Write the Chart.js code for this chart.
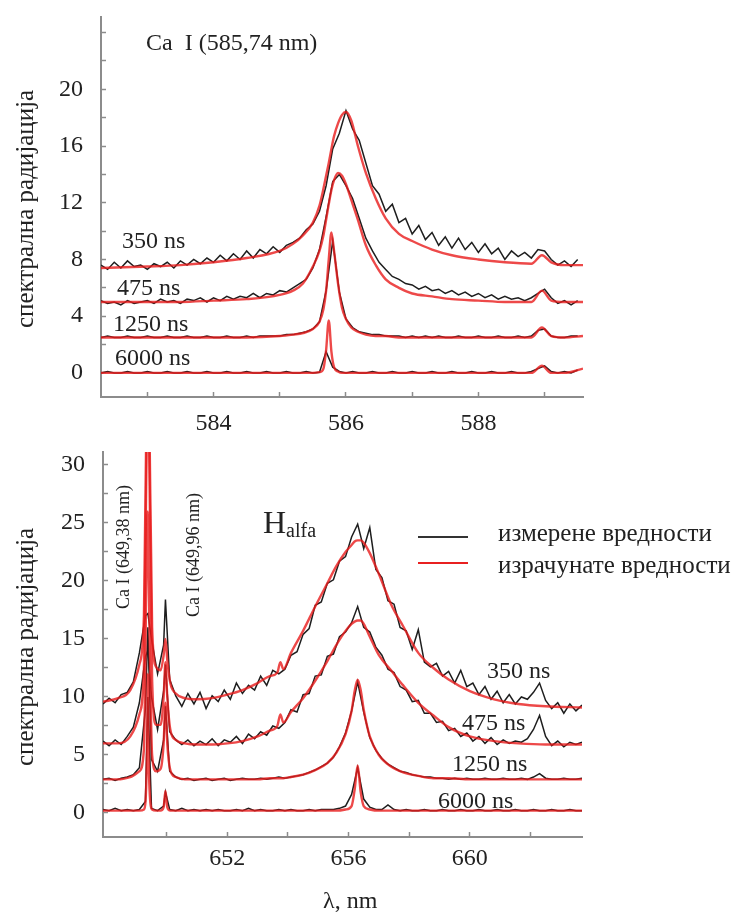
<!DOCTYPE html>
<html>
<head>
<meta charset="utf-8">
<title>Спектрална радијација Ca I и H alfa</title>
<script src="https://cdn.jsdelivr.net/npm/chart.js"></script>
<style>
    body { margin: 0; background: #fff; }
    #wrap { position: relative; width: 735px; height: 915px; font-family: "Liberation Serif", "Times New Roman", serif; color: #222; }
    canvas { position: absolute; left: 0; }
    .lbl { position: absolute; font-size: 24px; line-height: 24px; white-space: nowrap; }
    .rot { position: absolute; white-space: nowrap; line-height: 1; transform: translate(-50%, -50%) rotate(-90deg); }
    .swatch { position: absolute; height: 2px; width: 50px; }
</style>
</head>
<body>
<div id="wrap">
    <canvas id="caChart" width="735" height="440" style="top:0"></canvas>
    <canvas id="haChart" width="735" height="475" style="top:440px"></canvas>

    <!-- gornji panel -->
    <div class="lbl" style="left:146px; top:30px">Ca&nbsp; I (585,74 nm)</div>
    <div class="lbl" style="left:122px; top:228px">350 ns</div>
    <div class="lbl" style="left:117px; top:275px">475 ns</div>
    <div class="lbl" style="left:113px; top:311px">1250 ns</div>
    <div class="lbl" style="left:115px; top:345px">6000 ns</div>
    <div class="rot" style="left:24px; top:209px; font-size:25px">спектрална радијација</div>

    <!-- donji panel -->
    <div class="rot" style="left:123px; top:547px; font-size:18px">Ca I (649,38 nm)</div>
    <div class="rot" style="left:193px; top:555px; font-size:18px">Ca I (649,96 nm)</div>
    <div class="lbl" style="left:263px; top:506px; font-size:32px; line-height:32px">H<span style="font-size:20px; position:relative; top:4px">alfa</span></div>
    <div class="swatch" style="left:418px; top:536px; background:#333"></div>
    <div class="swatch" style="left:418px; top:562px; background:#e82020"></div>
    <div class="lbl" style="left:498px; top:521px; font-size:25px">измерене вредности</div>
    <div class="lbl" style="left:498px; top:553px; font-size:25px">израчунате вредности</div>
    <div class="lbl" style="left:487px; top:658px">350 ns</div>
    <div class="lbl" style="left:462px; top:710px">475 ns</div>
    <div class="lbl" style="left:452px; top:751px">1250 ns</div>
    <div class="lbl" style="left:438px; top:788px">6000 ns</div>
    <div class="rot" style="left:24px; top:647px; font-size:25px">спектрална радијација</div>
    <div class="lbl" style="left:323px; top:888px">λ, nm</div>
</div>

<script>
    // ---- Ca I 585,74 nm : mjerene vrijednosti ----
    var caX = [
        582.3,582.4,582.5,582.6,582.7,582.8,582.9,583.0,583.1,583.2,
        583.3,583.4,583.5,583.6,583.7,583.8,583.9,584.0,584.1,584.2,
        584.3,584.4,584.5,584.6,584.7,584.8,584.9,585.0,585.1,585.2,
        585.3,585.4,585.5,585.6,585.7,585.8,585.9,586.0,586.1,586.2,
        586.3,586.4,586.5,586.6,586.7,586.8,586.9,587.0,587.1,587.2,
        587.3,587.4,587.5,587.6,587.7,587.8,587.9,588.0,588.1,588.2,
        588.3,588.4,588.5,588.6,588.7,588.8,588.9,589.0,589.1,589.2,
        589.3,589.4,589.5
    ];
    var ca350 = [
        7.6,7.3,7.8,7.4,7.9,7.5,7.6,7.3,7.7,7.5,
        7.8,7.4,7.9,7.6,8.0,7.7,8.1,7.8,8.3,7.9,
        8.4,8.0,8.6,8.1,8.7,8.4,8.9,8.5,9.0,9.2,
        9.5,10.1,10.5,11.4,13.2,15.8,16.9,18.5,17.2,16.4,
        14.8,13.2,12.6,11.4,11.9,10.6,10.9,9.8,10.4,9.4,
        9.9,9.0,9.6,8.8,9.5,8.7,9.2,8.5,9.1,8.4,
        8.8,8.0,8.6,8.2,8.5,8.1,8.7,8.6,8.0,7.6,
        7.9,7.5,8.0
    ];
    var ca475 = [
        5.1,4.9,5.0,4.8,5.1,4.9,5.0,5.1,4.9,5.2,
        5.0,5.1,4.9,5.2,5.1,5.3,5.0,5.3,5.1,5.4,
        5.2,5.4,5.3,5.6,5.3,5.6,5.5,5.8,5.7,6.0,
        6.3,6.6,7.4,8.7,11.0,13.5,14.0,13.2,12.3,10.9,
        9.5,8.6,7.8,7.3,6.8,6.6,6.3,6.2,5.9,6.1,
        5.8,5.9,5.6,5.8,5.5,5.7,5.4,5.6,5.3,5.5,
        5.2,5.4,5.2,5.3,5.1,5.3,5.6,5.9,5.3,4.9,
        5.1,4.8,5.1
    ];
    var ca1250 = [
        2.5,2.6,2.5,2.5,2.6,2.5,2.5,2.6,2.5,2.5,
        2.6,2.5,2.5,2.6,2.5,2.5,2.6,2.5,2.5,2.6,
        2.5,2.5,2.6,2.5,2.6,2.6,2.6,2.6,2.7,2.7,
        2.8,2.9,3.1,3.6,5.8,9.3,5.7,3.8,3.2,2.9,
        2.8,2.7,2.7,2.6,2.6,2.6,2.5,2.6,2.5,2.6,
        2.5,2.6,2.5,2.5,2.6,2.5,2.5,2.6,2.5,2.5,
        2.6,2.5,2.5,2.6,2.5,2.6,3.0,3.1,2.6,2.5,
        2.5,2.6,2.6
    ];
    var ca6000 = [
        0.0,0.1,0.0,0.0,0.1,0.0,0.0,0.1,0.0,0.0,
        0.1,0.0,0.0,0.1,0.0,0.0,0.1,0.0,0.0,0.1,
        0.0,0.0,0.1,0.0,0.0,0.1,0.0,0.0,0.1,0.0,
        0.0,0.1,0.0,0.05,1.5,0.4,0.1,0.0,0.1,0.0,
        0.0,0.1,0.0,0.0,0.1,0.0,0.0,0.1,0.0,0.0,
        0.1,0.0,0.0,0.1,0.0,0.0,0.1,0.0,0.0,0.1,
        0.0,0.0,0.1,0.0,0.0,0.1,0.3,0.5,0.1,0.0,
        0.1,0.0,0.2
    ];

    // ---- Ca I 585,74 nm : izracunate vrijednosti ----
    var caFitX = [
        582.3,583.0,583.5,584.0,584.5,585.0,585.2,585.35,585.5,585.6,
        585.66,585.7,585.74,585.78,585.82,585.88,585.94,586.0,586.08,586.18,
        586.3,586.45,586.6,586.8,587.0,587.3,587.6,588.0,588.4,588.8,
        588.96,589.1,589.3,589.58
    ];
    var caFit350 = [
        7.4,7.5,7.6,7.8,8.1,8.6,9.1,9.7,10.6,11.8,
        13.0,13.9,14.8,15.8,16.7,17.6,18.2,18.4,17.8,16.0,
        14.1,12.3,10.9,9.8,9.3,8.7,8.3,8.0,7.8,7.7,
        8.3,7.8,7.6,7.6
    ];
    var caFit475 = [
        5.0,5.0,5.0,5.1,5.2,5.5,5.8,6.3,7.5,8.6,
        9.7,10.8,11.9,12.9,13.6,14.1,13.9,13.3,12.2,10.8,
        9.0,7.6,6.6,6.0,5.6,5.4,5.2,5.1,5.0,5.0,
        5.8,5.1,5.0,5.0
    ];
    var caFit1250 = [
        2.5,2.5,2.5,2.5,2.5,2.6,2.7,2.8,3.1,3.6,
        4.5,5.8,8.0,9.9,8.6,6.3,4.6,3.8,3.2,2.9,
        2.7,2.6,2.6,2.5,2.5,2.5,2.5,2.5,2.5,2.5,
        3.2,2.6,2.5,2.6
    ];
    var caFit6000 = [
        0.0,0.0,0.0,0.0,0.0,0.0,0.0,0.0,0.0,0.05,
        0.3,1.6,3.7,1.5,0.4,0.1,0.0,0.0,0.0,0.0,
        0.0,0.0,0.0,0.0,0.0,0.0,0.0,0.0,0.0,0.0,
        0.5,0.0,0.0,0.3
    ];

    // ---- H alfa : mjerene vrijednosti ----
    var haX = [
        647.9,648.1,648.3,648.5,648.7,648.9,649.1,649.3,649.38,649.5,
        649.7,649.9,649.96,650.1,650.3,650.5,650.7,650.9,651.1,651.3,
        651.5,651.7,651.9,652.1,652.3,652.5,652.7,652.9,653.1,653.3,
        653.5,653.7,653.9,654.1,654.3,654.5,654.7,654.9,655.1,655.3,
        655.5,655.7,655.9,656.1,656.3,656.5,656.7,656.9,657.1,657.3,
        657.5,657.7,657.9,658.1,658.3,658.5,658.7,658.9,659.1,659.3,
        659.5,659.7,659.9,660.1,660.3,660.5,660.7,660.9,661.1,661.3,
        661.5,661.7,661.9,662.1,662.3,662.5,662.7,662.9,663.1,663.3,
        663.5,663.7
    ];
    var ha350 = [
        9.4,9.9,9.5,10.2,10.4,11.3,13.8,17.0,17.2,15.0,
        12.0,14.5,18.4,11.5,10.1,9.2,10.3,9.4,10.4,9.0,
        10.1,9.6,10.6,9.8,11.2,10.3,11.0,10.6,11.8,11.0,
        12.3,12.0,12.4,13.6,13.9,15.4,15.9,17.9,18.2,19.8,
        20.1,21.7,22.1,23.8,24.9,22.8,24.6,21.0,20.3,18.3,
        18.0,16.0,15.7,14.1,15.8,13.0,12.6,12.9,11.8,12.2,
        11.2,12.3,10.9,11.2,10.2,10.9,9.8,10.5,9.5,10.2,
        9.4,10.0,9.8,10.4,11.2,9.7,9.0,9.5,8.6,9.4,
        8.8,9.3
    ];
    var ha475 = [
        6.2,5.8,6.3,5.9,6.6,7.4,9.5,13.5,14.0,10.0,
        7.2,10.5,12.8,7.0,6.3,5.9,6.3,5.8,6.2,5.9,
        6.4,5.8,6.3,6.1,6.6,6.0,6.8,6.4,7.0,6.7,
        7.5,7.3,7.8,8.9,8.7,10.2,10.3,11.8,11.9,13.5,
        13.7,15.2,15.6,16.4,17.8,16.0,15.6,14.3,13.6,12.4,
        12.1,10.9,10.6,9.6,9.7,8.6,8.6,7.8,7.9,7.1,
        7.3,6.6,6.9,6.2,6.6,6.0,6.5,5.9,6.3,6.0,
        6.2,6.1,6.4,7.2,8.4,6.6,5.8,6.2,5.7,6.1,
        5.9,6.1
    ];
    var ha1250 = [
        2.9,3.0,2.8,3.0,3.1,3.3,3.9,9.0,16.0,4.6,
        3.6,6.3,9.2,3.6,3.1,2.9,3.0,2.8,2.9,3.0,
        2.8,2.9,3.0,2.8,2.9,3.0,2.9,2.9,3.0,2.9,
        3.0,3.1,3.0,3.1,3.2,3.3,3.5,3.7,4.0,4.3,
        4.8,5.7,6.9,8.8,11.3,8.7,6.5,5.4,4.7,4.2,
        3.9,3.6,3.5,3.3,3.2,3.1,3.1,3.0,3.0,2.9,
        3.0,2.9,3.0,2.9,2.9,3.0,2.9,2.9,3.0,2.9,
        2.9,3.0,2.9,3.1,3.4,3.0,2.9,2.9,3.0,2.9,
        2.9,3.0
    ];
    var ha6000 = [
        0.3,0.2,0.4,0.2,0.3,0.2,0.3,1.0,10.0,0.4,
        0.2,0.6,1.8,0.3,0.2,0.4,0.2,0.3,0.2,0.3,
        0.2,0.3,0.2,0.2,0.3,0.2,0.4,0.2,0.3,0.2,
        0.2,0.3,0.2,0.3,0.2,0.2,0.3,0.2,0.3,0.3,
        0.3,0.4,0.6,1.6,3.9,1.2,0.5,0.3,0.3,0.7,
        0.3,0.2,0.3,0.2,0.2,0.3,0.2,0.2,0.3,0.2,
        0.2,0.3,0.2,0.2,0.3,0.2,0.2,0.3,0.2,0.2,
        0.3,0.2,0.2,0.3,0.2,0.2,0.3,0.2,0.2,0.3,
        0.2,0.2
    ];

    // ---- H alfa : izracunate vrijednosti ----
    var haFitX = [
        647.9,648.4,648.8,649.1,649.25,649.35,649.38,649.41,649.52,649.65,
        649.8,649.9,649.96,650.02,650.12,650.3,650.6,651.0,651.5,652.0,
        652.5,653.0,653.4,653.65,653.75,653.85,654.1,654.5,654.9,655.3,
        655.6,655.9,656.1,656.2,656.3,656.4,656.5,656.7,657.0,657.4,
        657.8,658.3,658.8,659.3,660.0,660.8,661.6,662.5,663.7
    ];
    var haFit350 = [
        9.6,9.9,10.6,12.8,17.0,38.0,40.0,38.0,16.0,12.6,
        12.3,13.6,15.0,13.2,11.2,10.3,9.9,9.8,9.9,10.2,
        10.6,11.2,11.8,12.1,13.0,12.4,13.8,15.7,17.8,19.8,
        21.3,22.5,23.1,23.4,23.5,23.5,23.3,22.4,20.6,18.0,
        16.1,13.8,12.5,11.5,10.5,9.8,9.4,9.2,9.1
    ];
    var haFit475 = [
        6.0,6.0,6.6,8.5,12.5,34.0,36.0,34.0,11.5,7.6,
        7.6,10.0,13.0,10.0,7.2,6.3,6.0,5.9,5.9,6.0,
        6.2,6.6,7.1,7.5,8.5,7.8,8.7,9.9,11.4,13.1,
        14.5,15.7,16.3,16.5,16.6,16.6,16.3,15.2,13.6,12.3,
        11.0,9.5,8.4,7.4,6.6,6.2,6.0,5.9,5.9
    ];
    var haFit1250 = [
        2.9,2.9,3.1,3.6,5.5,24.0,26.0,20.0,5.0,3.6,
        3.8,6.0,9.5,6.0,3.7,3.1,2.9,2.9,2.9,2.9,
        2.9,2.9,3.0,3.0,3.0,3.0,3.1,3.3,3.7,4.3,
        5.2,6.8,8.8,10.5,11.5,10.6,8.9,6.6,5.0,4.0,
        3.5,3.2,3.0,3.0,2.9,2.9,2.9,2.9,2.9
    ];
    var haFit6000 = [
        0.2,0.2,0.2,0.2,0.3,5.0,12.0,4.0,0.3,0.2,
        0.2,0.5,1.9,0.5,0.2,0.2,0.2,0.2,0.2,0.2,
        0.2,0.2,0.2,0.2,0.2,0.2,0.2,0.2,0.2,0.2,
        0.2,0.3,0.6,2.0,4.1,1.8,0.6,0.3,0.2,0.2,
        0.2,0.2,0.2,0.2,0.2,0.2,0.2,0.2,0.2
    ];

    // tikovi osa
    var caXTicks = [583, 584, 585, 586, 587, 588, 589];
    var caXLabels = [584, 586, 588];
    var caYTicks = [0, 2, 4, 6, 8, 10, 12, 14, 16, 18, 20, 22, 24];
    var caYLabels = [0, 4, 8, 12, 16, 20];
    var haXTicks = [650, 652, 654, 656, 658, 660, 662];
    var haXLabels = [652, 656, 660];
    var haYTicks = [0, 2.5, 5, 7.5, 10, 12.5, 15, 17.5, 20, 22.5, 25, 27.5, 30];
    var haYLabels = [0, 5, 10, 15, 20, 25, 30];

    var serif = '"Liberation Serif", "Times New Roman", serif';
    var axisGray = '#8c8c8c';

    function pts(xs, ys) {
        return xs.map(function (x, i) { return { x: x, y: ys[i] }; });
    }

    function fitSet(xs, ys) {
        return {
            data: pts(xs, ys),
            borderColor: 'rgba(232, 28, 28, 0.8)',
            borderWidth: 2.4,
            pointRadius: 0,
            cubicInterpolationMode: 'monotone'
        };
    }

    function measSet(xs, ys) {
        return {
            data: pts(xs, ys),
            borderColor: '#1e1e1e',
            borderWidth: 1.5,
            pointRadius: 0,
            tension: 0
        };
    }

    // bez automatskog prostora za krajnje oznake
    function noEdgePad(scale) {
        scale.paddingTop = 0;
        scale.paddingBottom = 0;
        scale.paddingLeft = 0;
        scale.paddingRight = 0;
    }

    function makeChart(id, datasets, cfg) {
        var ctx = document.getElementById(id).getContext('2d');
        return new Chart(ctx, {
            type: 'line',
            data: { datasets: datasets },
            options: {
                responsive: false,
                animation: false,
                events: [],
                layout: { padding: { top: cfg.padTop, right: cfg.padRight, left: 0, bottom: 0 } },
                plugins: { legend: { display: false }, tooltip: { enabled: false } },
                scales: {
                    x: {
                        type: 'linear',
                        min: cfg.xMin,
                        max: cfg.xMax,
                        afterFit: function (scale) { scale.height = cfg.xHeight; noEdgePad(scale); },
                        afterBuildTicks: function (scale) {
                            scale.ticks = cfg.xTicks.map(function (v) { return { value: v }; });
                        },
                        ticks: {
                            autoSkip: false,
                            maxRotation: 0,
                            padding: cfg.xPad,
                            color: '#222',
                            font: { family: serif, size: 24 },
                            callback: function (v) { return cfg.xLabels.indexOf(v) >= 0 ? String(v) : ''; }
                        },
                        grid: { drawOnChartArea: false, tickLength: -5, tickColor: axisGray, tickWidth: 1.5 },
                        border: { color: axisGray, width: 2 }
                    },
                    y: {
                        min: cfg.yMin,
                        max: cfg.yMax,
                        afterFit: function (scale) { scale.width = cfg.yWidth; noEdgePad(scale); },
                        afterBuildTicks: function (scale) {
                            scale.ticks = cfg.yTicks.map(function (v) { return { value: v }; });
                        },
                        ticks: {
                            autoSkip: false,
                            padding: 23,
                            color: '#222',
                            font: { family: serif, size: 24 },
                            callback: function (v) { return cfg.yLabels.indexOf(v) >= 0 ? String(v) : ''; }
                        },
                        grid: { drawOnChartArea: false, tickLength: -5, tickColor: axisGray, tickWidth: 1.5 },
                        border: { color: axisGray, width: 2 }
                    }
                }
            }
        });
    }

    // gornji grafik: Ca I (585,74 nm)
    makeChart('caChart', [
        fitSet(caFitX, caFit350), fitSet(caFitX, caFit475),
        fitSet(caFitX, caFit1250), fitSet(caFitX, caFit6000),
        measSet(caX, ca350), measSet(caX, ca475),
        measSet(caX, ca1250), measSet(caX, ca6000)
    ], {
        padTop: 17, padRight: 152, xHeight: 43, yWidth: 101, xPad: 17,
        xMin: 582.3, xMax: 589.58, yMin: -1.7, yMax: 25.1,
        xTicks: caXTicks, xLabels: caXLabels, yTicks: caYTicks, yLabels: caYLabels
    });

    // donji grafik: H alfa
    makeChart('haChart', [
        fitSet(haFitX, haFit350), fitSet(haFitX, haFit475),
        fitSet(haFitX, haFit1250), fitSet(haFitX, haFit6000),
        measSet(haX, ha350), measSet(haX, ha475),
        measSet(haX, ha1250), measSet(haX, ha6000)
    ], {
        padTop: 12, padRight: 153, xHeight: 78, yWidth: 103, xPad: 12,
        xMin: 647.9, xMax: 663.7, yMin: -2.07, yMax: 31.12,
        xTicks: haXTicks, xLabels: haXLabels, yTicks: haYTicks, yLabels: haYLabels
    });
</script>
</body>
</html>
